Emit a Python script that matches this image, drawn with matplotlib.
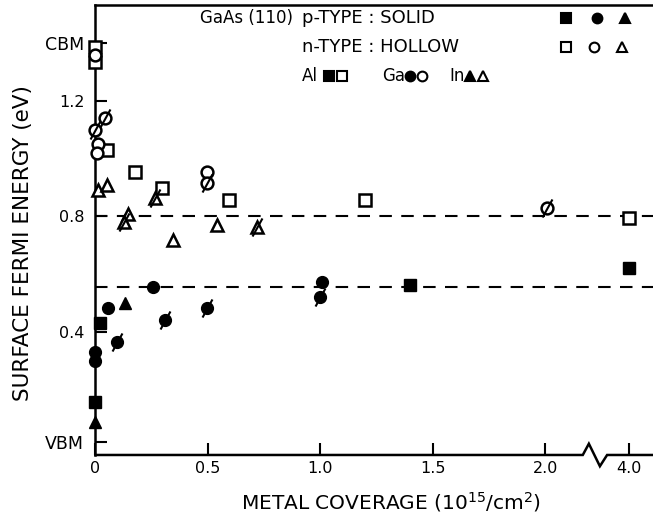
import numpy as np
import matplotlib
matplotlib.use("Agg")
import matplotlib.pyplot as plt
from matplotlib.path import Path

# p-type (solid) markers, metal coverage in 1e15/cm^2, energy in eV
p_al_x = [0.02, 0.0, 1.40, 4.0]
p_al_y = [0.43, 0.158, 0.562, 0.62]
p_ga_x = [0.056, 0.0, 0.0, 0.257, 1.007]
p_ga_y = [0.483, 0.33, 0.30, 0.557, 0.573]
p_in_x = [0.132, 0.0]
p_in_y = [0.50, 0.089]
p_slash_x = [0.096, 0.31, 0.495, 0.998]
p_slash_y = [0.365, 0.442, 0.483, 0.521]

# n-type (hollow) markers
n_al_x = [0.0, 0.0, 0.05, 0.176, 0.295, 0.594, 1.198, 4.0]
n_al_y = [1.387, 1.335, 1.03, 0.955, 0.90, 0.857, 0.857, 0.795]
n_ga_x = [0.0, 0.01, 0.005, 0.495]
n_ga_y = [1.359, 1.05, 1.02, 0.955]
n_in_x = [0.01, 0.05, 0.145, 0.345, 0.54]
n_in_y = [0.89, 0.91, 0.81, 0.72, 0.77]
n_slash_x = [0.0, 0.043, 0.495, 2.006]
n_slash_y = [1.10, 1.141, 0.915, 0.83]
n_slash_tri_x = [0.125, 0.265, 0.72]
n_slash_tri_y = [0.78, 0.864, 0.764]

# pinning levels (dashed lines)
pin_levels = [0.8, 0.557]

x_ticks = [0, 0.5, 1.0, 1.5, 2.0, 4.0]
x_labels = ["0", "0.5", "1.0", "1.5", "2.0", "4.0"]
y_ticks = [0.02, 0.4, 0.8, 1.2, 1.4]
y_labels = ["VBM", "0.4", "0.8", "1.2", "CBM"]

# broken x axis: 2.2 .. 4.0 squeezed into a small gap
BRK_LO, BRK_HI, GAP = 2.2, 4.0, 0.17


def fwd(x):
    x = np.asarray(x, dtype=float)
    return np.where(x <= BRK_LO, x,
                    np.where(x <= BRK_HI, BRK_LO + (x - BRK_LO) * GAP / (BRK_HI - BRK_LO),
                             BRK_LO + GAP + (x - BRK_HI)))


def inv(u):
    u = np.asarray(u, dtype=float)
    return np.where(u <= BRK_LO, u,
                    np.where(u <= BRK_LO + GAP, BRK_LO + (u - BRK_LO) * (BRK_HI - BRK_LO) / GAP,
                             BRK_HI + (u - BRK_LO - GAP)))


slash = Path([(-0.55, -1.0), (0.55, 1.0)], [Path.MOVETO, Path.LINETO])

plt.rcParams['font.family'] = ['DejaVu Sans']
fig = plt.figure(figsize=(6.53, 5.22), dpi=100)
ax = fig.add_axes([0.1461, 0.1284, 0.8539, 0.862])
ax.set_xscale('function', functions=(fwd, inv))
xmax = float(inv(2.478))
ax.set_xlim(0, xmax)
ax.set_ylim(-0.026, 1.532)

for lv in pin_levels:
    ax.plot([0, xmax], [lv, lv], color='black', lw=1.5, dashes=(6, 4.5), zorder=1)

kw = dict(linestyle='none', color='black', mec='black', clip_on=False, zorder=3)
ms = 8.5
# solid
ax.plot(p_al_x, p_al_y, marker='s', ms=ms, mfc='black', **kw)
ax.plot(p_ga_x, p_ga_y, marker='o', ms=ms, mfc='black', **kw)
ax.plot(p_in_x, p_in_y, marker='^', ms=ms, mfc='black', **kw)
ax.plot(p_slash_x, p_slash_y, marker='o', ms=ms, mfc='black', **kw)
ax.plot(p_slash_x, p_slash_y, marker=slash, ms=13, mew=1.5, **kw)
# hollow
ax.plot(n_al_x, n_al_y, marker='s', ms=ms, mfc='white', mew=1.8, **kw)
ax.plot(n_ga_x, n_ga_y, marker='o', ms=ms, mfc='white', mew=1.8, **kw)
ax.plot(n_in_x, n_in_y, marker='^', ms=ms, mfc='white', mew=1.8, **kw)
ax.plot(n_slash_x, n_slash_y, marker='o', ms=ms, mfc='white', mew=1.8, **kw)
ax.plot(n_slash_x, n_slash_y, marker=slash, ms=13, mew=1.5, **kw)
ax.plot(n_slash_tri_x, n_slash_tri_y, marker='^', ms=ms, mfc='white', mew=1.8, **kw)
ax.plot(n_slash_tri_x, n_slash_tri_y, marker=slash, ms=13, mew=1.5, **kw)

# spines: left and top kept, bottom redrawn with the break zigzag
for s in ['right', 'bottom']:
    ax.spines[s].set_visible(False)
for s in ['left', 'top']:
    ax.spines[s].set_linewidth(1.8)
zz_u = [0, 2.166, 2.193, 2.242, 2.274, 2.478]
zz_y = [0, 0, 0.025, -0.025, 0, 0]
ax.plot(inv(zz_u), zz_y, color='black', lw=1.8, transform=ax.get_xaxis_transform(),
        clip_on=False, solid_joinstyle='miter')

ax.set_xticks(x_ticks)
ax.set_xticklabels(x_labels)
ax.set_yticks(y_ticks)
ax.set_yticklabels(y_labels)
ax.xaxis.set_minor_locator(matplotlib.ticker.NullLocator())
ax.tick_params(axis='both', direction='in', length=8.5, width=1.5, labelsize=11.5)
ax.tick_params(axis='x', pad=4)
ax.tick_params(axis='y', pad=8)
for lbl in ax.get_yticklabels():
    if lbl.get_text() in ('VBM', 'CBM'):
        lbl.set_fontsize(12.5)

ax.set_xlabel('METAL COVERAGE (10$^{15}$/cm$^2$)', fontsize=14.5, labelpad=8)
ax.xaxis.set_label_coords(0.53, -0.078)
ax.set_ylabel('SURFACE FERMI ENERGY (eV)', fontsize=15.5)
ax.yaxis.set_label_coords(-0.112, 0.471)

# key in the upper right
tfs = 13
ax.text(0.1877, 0.971, 'GaAs (110)', transform=ax.transAxes, fontsize=12, va='center')
ax.text(0.3705, 0.971, 'p-TYPE : SOLID', transform=ax.transAxes, fontsize=tfs, va='center')
ax.text(0.3705, 0.907, 'n-TYPE : HOLLOW', transform=ax.transAxes, fontsize=tfs, va='center')
ax.text(0.3705, 0.842, 'Al', transform=ax.transAxes, fontsize=12, va='center')
ax.text(0.514, 0.842, 'Ga', transform=ax.transAxes, fontsize=12, va='center')
ax.text(0.634, 0.842, 'In', transform=ax.transAxes, fontsize=12, va='center')
key = [('s', 'black', 0.844, 0.971), ('o', 'black', 0.90, 0.971), ('^', 'black', 0.95, 0.971),
       ('s', 'white', 0.844, 0.907), ('o', 'white', 0.894, 0.907), ('^', 'white', 0.945, 0.907),
       ('s', 'black', 0.419, 0.842), ('s', 'white', 0.442, 0.842),
       ('o', 'black', 0.565, 0.842), ('o', 'white', 0.586, 0.842),
       ('^', 'black', 0.672, 0.842), ('^', 'white', 0.695, 0.842)]
for m, fc, kx, ky in key:
    ax.plot([kx], [ky], marker=m, ms=7, mfc=fc, mec='black', mew=1.5,
            transform=ax.transAxes, linestyle='none')

fig.savefig('out.png', dpi=100)
